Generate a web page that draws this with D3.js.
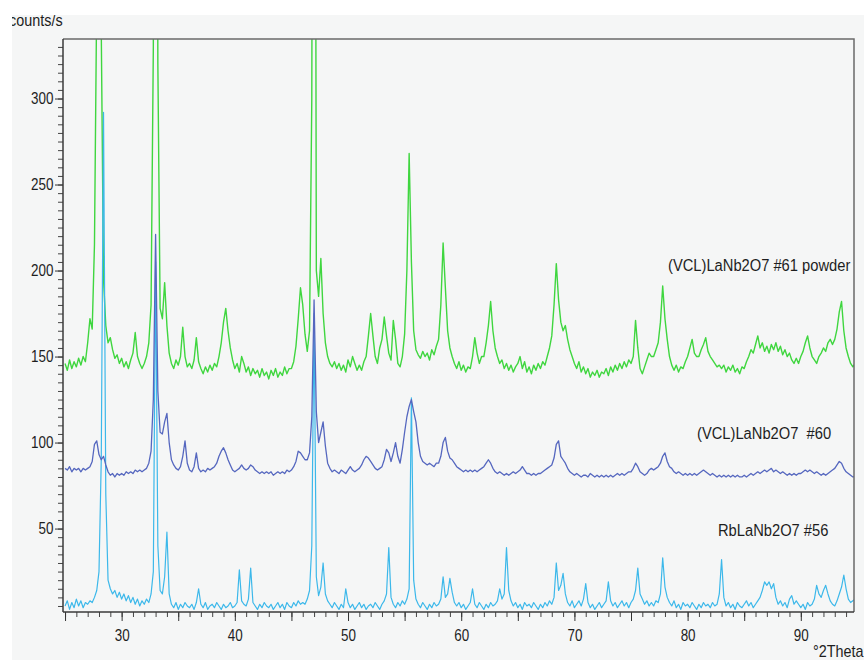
<!DOCTYPE html>
<html>
<head>
<meta charset="utf-8">
<script src="https://cdn.jsdelivr.net/npm/d3@7"></script>
<style>
  html, body { margin: 0; padding: 0; background: #ffffff; }
  svg { display: block; }
  text { font-family: "Liberation Sans", Arial, Helvetica, sans-serif; fill: #1e1e1e; }
</style>
</head>
<body>
<svg id="chart" width="864" height="660"></svg>
<script>
// Diffraction scans, counts/s sampled every 0.2 °2Theta from 25.0 to 94.8
const thetaStart = 25.0;
const thetaStep = 0.2;

// (VCL)LaNb2O7 #61 powder
const powder61 = [
  146, 142, 148, 143, 147,
  144, 149, 145, 150, 147,
  158, 172, 166, 215, 360,
  900, 340, 195, 168, 158,
  161, 154, 149, 151, 146,
  149, 144, 147, 143, 148,
  152, 164, 150, 146, 143,
  146, 150, 158, 180, 330,
  900, 320, 178, 172, 193,
  168, 152, 146, 143, 148,
  145, 150, 167, 150, 144,
  146, 143, 148, 161, 147,
  143, 140, 144, 141, 145,
  142, 146, 144, 150, 158,
  170, 178, 165, 155, 148,
  143, 146, 141, 150, 146,
  141, 144, 139, 143, 140,
  142, 138, 143, 139, 141,
  137, 142, 139, 143, 138,
  141, 139, 144, 140, 143,
  143, 147, 156, 172, 190,
  180, 163, 153, 165, 300,
  900, 200, 185, 207, 175,
  158, 150, 146, 144, 147,
  143, 146, 142, 145, 141,
  148, 144, 150, 146, 142,
  145, 142, 147, 150, 162,
  175, 162, 150, 146, 155,
  160, 173, 162, 152, 148,
  171, 160, 146, 144, 150,
  163, 200, 268, 205, 165,
  154, 151, 149, 153, 150,
  152, 148, 154, 151, 156,
  160, 180, 216, 190, 165,
  155, 150, 146, 143, 147,
  142, 145, 141, 144, 143,
  150, 161, 152, 146, 150,
  150, 158, 168, 182, 165,
  155, 150, 146, 148, 143,
  146, 142, 145, 141, 144,
  146, 150, 143, 147, 141,
  144, 140, 145, 142, 146,
  143, 147, 145, 150, 155,
  162, 180, 204, 183, 170,
  165, 168, 160, 154, 150,
  146, 143, 147, 141, 144,
  140, 143, 138, 141, 139,
  142, 138, 141, 140, 143,
  139, 144, 141, 145, 142,
  146, 143, 147, 144, 148,
  146, 150, 171, 155, 143,
  140, 144, 148, 152, 150,
  150, 154, 158, 170, 191,
  172, 160, 150, 145, 142,
  145, 141, 144, 143, 147,
  150, 155, 160, 152, 150,
  150, 154, 157, 161, 153,
  150, 148, 146, 144, 145,
  143, 145, 141, 144, 142,
  145, 141, 143, 140, 144,
  143, 147, 150, 154, 152,
  157, 162, 155, 158, 153,
  156, 152, 157, 154, 158,
  153, 156, 151, 154, 150,
  152, 148, 146, 149, 146,
  150, 153, 158, 162, 155,
  150, 148, 146, 150, 152,
  155, 153, 158, 160, 157,
  160, 166, 176, 182, 165,
  155, 150, 146, 144, 146
];

// (VCL)LaNb2O7 #60
const vcl60 = [
  85, 84, 86, 83, 85,
  84, 85, 83, 85, 84,
  85, 86, 89, 99, 101,
  93, 90, 92, 87, 83,
  81, 82, 80, 82, 81,
  82, 81, 83, 82, 83,
  82, 84, 83, 84, 83,
  84, 85, 88, 95, 125,
  221, 130, 106, 105, 112,
  117, 100, 90, 87, 85,
  84, 86, 92, 101, 88,
  84, 83, 86, 94, 85,
  83, 84, 83, 85, 84,
  85, 86, 88, 92, 95,
  97, 94, 90, 87, 84,
  83, 84, 85, 87, 85,
  84, 85, 87, 86, 84,
  83, 82, 83, 82, 83,
  82, 83, 81, 82, 83,
  82, 83, 82, 84, 83,
  84, 86, 89, 95, 94,
  92, 90, 90, 94, 115,
  183, 118, 100, 106, 112,
  98, 88, 85, 83, 84,
  83, 82, 84, 83, 82,
  84, 86, 84, 83, 84,
  85, 87, 90, 92, 91,
  89, 87, 85, 84, 85,
  86, 90, 96, 94, 89,
  94, 100, 92, 88, 96,
  106, 115, 121, 125, 118,
  112, 100, 92, 89, 88,
  87, 88, 87, 86, 88,
  88, 92, 100, 103, 95,
  91, 90, 88, 86, 85,
  84, 83, 84, 83, 84,
  83, 84, 83, 84, 85,
  86, 88, 90, 88, 85,
  83, 82, 83, 82, 81,
  82, 81, 82, 83, 82,
  83, 84, 86, 84, 82,
  82, 81, 82, 81, 82,
  82, 83, 84, 85, 86,
  87, 91, 99, 101, 92,
  90, 88, 85, 83, 82,
  81, 82, 81, 80, 81,
  81, 80, 82, 81, 80,
  81, 80, 81, 80, 81,
  80, 81, 80, 81, 82,
  81, 82, 81, 82, 83,
  83, 85, 88, 86, 83,
  82, 81, 82, 84, 85,
  84, 85, 86, 88, 92,
  94, 89, 86, 85, 83,
  82, 83, 82, 81, 82,
  81, 82, 81, 82, 81,
  82, 83, 84, 83, 82,
  81, 82, 81, 80, 81,
  80, 81, 80, 81, 80,
  81, 80, 81, 80, 80,
  81, 80, 81, 82, 81,
  82, 83, 82, 83, 84,
  83, 84, 85, 83, 84,
  83, 82, 83, 82, 81,
  82, 81, 82, 81, 82,
  82, 83, 84, 83, 84,
  83, 82, 83, 82, 81,
  82, 81, 82, 83, 84,
  85, 87, 89, 88, 85,
  83, 82, 81, 80, 80
];

// RbLaNb2O7 #56
const rb56 = [
  5, 8, 3, 7, 4,
  9, 5, 8, 4, 7,
  6, 8, 7, 10, 14,
  25, 90, 292, 70, 20,
  15, 12, 14, 10, 13,
  9, 12, 8, 11, 7,
  10, 6, 9, 5, 8,
  6, 9, 7, 12, 25,
  205, 40, 14, 12, 22,
  48, 12, 6, 4, 7,
  3, 6, 4, 7, 5,
  4, 6, 3, 7, 15,
  6, 4, 7, 3, 5,
  6, 4, 7, 5, 3,
  6, 4, 5, 7, 4,
  5, 7, 26, 8, 6,
  5, 9, 27, 7, 5,
  3, 6, 4, 7, 5,
  4, 6, 3, 5, 7,
  4, 6, 3, 7, 5,
  4, 7, 5, 8, 6,
  7, 6, 9, 14, 40,
  175, 22, 11, 16, 30,
  12, 8, 6, 4, 7,
  5, 3, 6, 4, 15,
  7, 4, 6, 3, 5,
  7, 4, 6, 3, 5,
  6, 4, 7, 5, 3,
  6, 8, 12, 39, 10,
  6, 4, 7, 5, 8,
  6, 9, 15, 126, 20,
  9, 6, 4, 7, 5,
  3, 6, 4, 7, 5,
  6, 9, 22, 10, 12,
  21, 13, 7, 5, 7,
  4, 6, 3, 5, 7,
  15, 6, 4, 7, 5,
  3, 6, 4, 7, 5,
  6, 8, 15, 9, 12,
  39, 14, 8, 5, 7,
  4, 6, 3, 7, 5,
  6, 4, 7, 5, 3,
  6, 4, 7, 5, 8,
  6, 10, 30, 14, 17,
  24, 12, 7, 5, 8,
  4, 6, 8, 5, 9,
  18, 7, 4, 6, 3,
  5, 7, 4, 6, 8,
  19, 8, 5, 7, 4,
  6, 8, 5, 7, 4,
  7, 9, 14, 27, 12,
  9, 6, 8, 5, 7,
  5, 8, 7, 12, 33,
  16, 10, 7, 5, 8,
  4, 6, 3, 7, 5,
  6, 4, 7, 5, 3,
  6, 4, 7, 5, 6,
  4, 7, 5, 6, 12,
  32, 10, 5, 7, 4,
  6, 3, 7, 5, 4,
  6, 8, 5, 7, 4,
  6, 8, 10, 14, 19,
  17, 19, 15, 18, 10,
  6, 8, 5, 7, 4,
  9, 11, 6, 8, 6,
  4, 6, 3, 7, 5,
  6, 9, 17, 12, 10,
  14, 17, 12, 8, 6,
  5, 8, 12, 16, 23,
  15, 9, 7, 8, 9
];

const seriesNames = ["(VCL)LaNb2O7 #61 powder", "(VCL)LaNb2O7  #60", "RbLaNb2O7 #56"];
const seriesColors = ["#3fd63f", "#5567bf", "#3cb8ea"];
const xTickLabels = [30, 40, 50, 60, 70, 80, 90];
const yTickLabels = [50, 100, 150, 200, 250, 300];

const svg = d3.select("#chart");
const W = 864, H = 660;
const plot = { left: 63, right: 854, top: 39, bottom: 612 };

const x = d3.scaleLinear().domain([24.82, 94.7]).range([plot.left, plot.right]);
const y = d3.scaleLinear().domain([1.5, 334.6]).range([plot.bottom, plot.top]);

// framed panel: white margin strip on top and left
svg.append("rect").attr("width", W).attr("height", H).attr("fill", "#ffffff");
svg.append("clipPath").attr("id", "panel")
  .append("rect").attr("x", 12).attr("y", 15).attr("width", W - 12).attr("height", H - 15);
const root = svg.append("g").attr("clip-path", "url(#panel)");
root.append("rect").attr("x", 12).attr("y", 15).attr("width", W - 12).attr("height", H - 15)
  .attr("fill", "#f5f6f6");

// plot clip
svg.append("clipPath").attr("id", "plotArea")
  .append("rect").attr("x", plot.left).attr("y", plot.top)
  .attr("width", plot.right - plot.left).attr("height", plot.bottom - plot.top);

// series
const theta = powder61.map((_, i) => +(thetaStart + i * thetaStep).toFixed(1));
const line = d3.line().x((d, i) => x(theta[i])).y(d => y(d));
const lines = root.append("g").attr("clip-path", "url(#plotArea)");
const drawOrder = [
  { data: powder61, color: seriesColors[0], w: 1.4 },
  { data: rb56, color: seriesColors[2], w: 1.2 },
  { data: vcl60, color: seriesColors[1], w: 1.3 }
];
drawOrder.forEach(s => {
  lines.append("path").datum(s.data)
    .attr("d", line)
    .attr("fill", "none")
    .attr("stroke", s.color)
    .attr("stroke-width", s.w)
    .attr("stroke-linejoin", "round");
});

// frame (top and right)
root.append("path")
  .attr("d", `M${plot.left},${plot.top}H${plot.right}V${plot.bottom}`)
  .attr("fill", "none").attr("stroke", "#6a6a6a").attr("stroke-width", 1.5);

// y axis: minor ticks every 5, labelled every 50
const yMinor = root.append("g").attr("transform", `translate(${plot.left},0)`)
  .call(d3.axisLeft(y).tickValues(d3.range(5, 335, 5)).tickSize(5).tickFormat(""));
yMinor.select(".domain").remove();
yMinor.selectAll(".tick line").attr("stroke", "#444");

const yMajor = root.append("g").attr("transform", `translate(${plot.left},0)`)
  .call(d3.axisLeft(y).tickValues(yTickLabels).tickSize(8).tickFormat(d3.format("d")));
yMajor.select(".domain").remove();
yMajor.selectAll(".tick line").attr("stroke", "#333");
yMajor.selectAll(".tick text")
  .attr("font-size", 16)
  .attr("x", -9.5 / 0.84)
  .attr("transform", "scale(0.84,1)")
  .attr("fill", "#1e1e1e");

root.append("line")
  .attr("x1", plot.left).attr("x2", plot.left)
  .attr("y1", plot.top).attr("y2", plot.bottom)
  .attr("stroke", "#3a3a3a").attr("stroke-width", 1.5);

// x axis: minor ticks every 1, longer every 5, labelled every 10
const xMinor = root.append("g").attr("transform", `translate(0,${plot.bottom})`)
  .call(d3.axisBottom(x).tickValues(d3.range(25, 95, 1)).tickSize(5).tickFormat(""));
xMinor.select(".domain").remove();
xMinor.selectAll(".tick line").attr("stroke", "#444");

const xMid = root.append("g").attr("transform", `translate(0,${plot.bottom})`)
  .call(d3.axisBottom(x).tickValues(d3.range(25, 95, 5)).tickSize(9).tickFormat(""));
xMid.select(".domain").remove();
xMid.selectAll(".tick line").attr("stroke", "#333");

const xLab = root.append("g").attr("transform", `translate(0,${plot.bottom})`)
  .call(d3.axisBottom(x).tickValues(xTickLabels).tickSize(0).tickFormat(d3.format("d")));
xLab.select(".domain").remove();
xLab.selectAll(".tick text")
  .attr("font-size", 16)
  .attr("y", 29).attr("dy", 0)
  .attr("transform", "scale(0.84,1)")
  .attr("fill", "#1e1e1e");

root.append("line")
  .attr("x1", plot.left).attr("x2", plot.right)
  .attr("y1", plot.bottom).attr("y2", plot.bottom)
  .attr("stroke", "#3a3a3a").attr("stroke-width", 1.5);

// axis titles
root.append("text")
  .attr("transform", "translate(9,26) scale(0.9,1)")
  .attr("font-size", 16)
  .text("counts/s");
root.append("text")
  .attr("transform", "translate(813,657) scale(0.9,1)")
  .attr("font-size", 16)
  .text("°2Theta");

// series labels
const labelPos = [[668, 271], [697, 439], [718, 536]];
seriesNames.forEach((name, i) => {
  root.append("text")
    .attr("transform", `translate(${labelPos[i][0]},${labelPos[i][1]}) scale(0.92,1)`)
    .attr("font-size", 16)
    .style("white-space", "pre")
    .text(name);
});
</script>
</body>
</html>
